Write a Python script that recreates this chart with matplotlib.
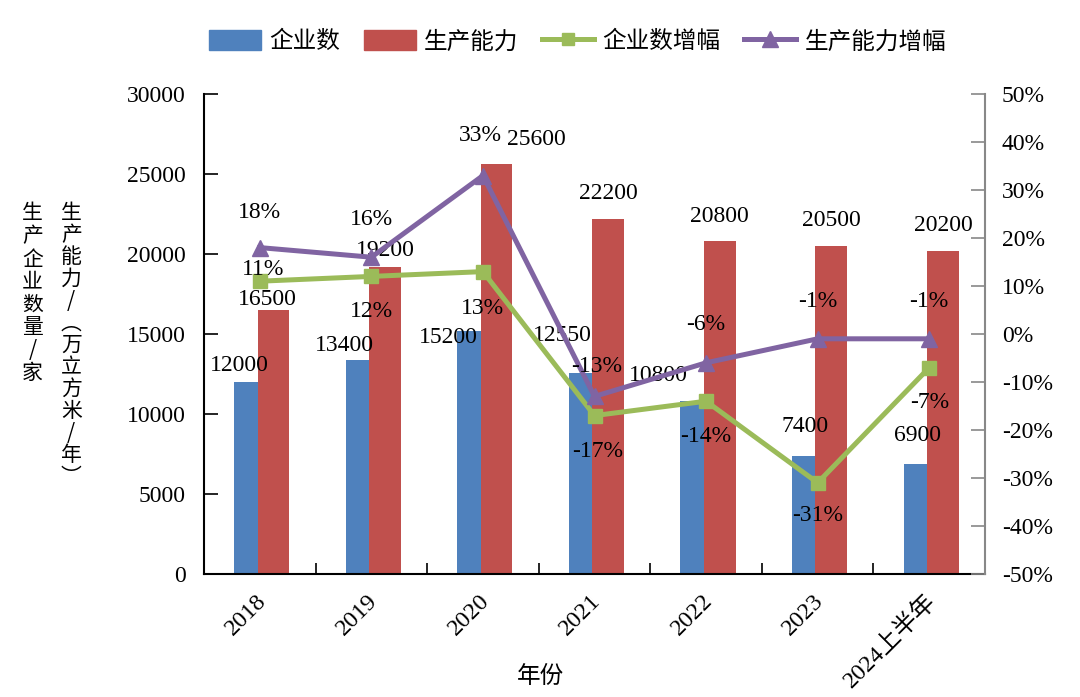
import matplotlib
import matplotlib.pyplot as plt
from matplotlib.patches import Patch
from matplotlib.lines import Line2D

matplotlib.use("Agg")

plt.rcParams["font.family"] = ["Liberation Serif", "Noto Sans CJK SC"]

years = ["2018", "2019", "2020", "2021", "2022", "2023", "2024上半年"]
firms = [12000, 13400, 15200, 12550, 10800, 7400, 6900]
capacity = [16500, 19200, 25600, 22200, 20800, 20500, 20200]
firms_growth = [11, 12, 13, -17, -14, -31, -7]
capacity_growth = [18, 16, 33, -13, -6, -1, -1]

# label offsets in pixels (dx, dy) from each mark, as placed in the original
firms_off = [(-6, 16), (-13, 14), (-21, -7), (-18, 38), (-34, 26), (1, 29), (2, 28)]
cap_off = [(-6, 10), (0, 16), (40, 25), (0, 25), (0, 25), (0, 25), (0, 25)]
fg_off = [(3, 12), (0, -35), (0, -37), (3, -36), (0, -35), (0, -33), (0, -35)]
cg_off = [(0, 35), (0, 38), (-3, 40), (2, 30), (0, 38), (0, 37), (0, 37)]

BLUE = "#4F81BD"
RED = "#C0504D"
GREEN = "#9BBB59"
PURPLE = "#8064A2"
FS = 17
PX = 0.72  # points per pixel at dpi 100

fig = plt.figure(figsize=(10.8, 6.97), dpi=100)
ax = fig.add_axes([204 / 1080, (697 - 574) / 697, 781 / 1080, 480 / 697])
ax2 = ax.twinx()

x = list(range(len(years)))
ax.bar([i - 0.23 for i in x], firms, 0.21, align="edge", color=BLUE, zorder=2)
ax.bar([i - 0.02 for i in x], capacity, 0.285, align="edge", color=RED, zorder=2)

ax.set_xlim(-0.5, len(years) - 0.5)
ax.set_ylim(0, 30000)
ax.set_yticks(range(0, 30001, 5000))
ax.set_xticks([i + 0.5 for i in x[:-1]] + [-0.5])
ax.set_xticklabels([])
ax.tick_params(axis="x", direction="in", length=8, width=1.2)
ax.tick_params(axis="y", direction="in", length=10, width=1.2, labelsize=FS, pad=13)
for i, lab in enumerate(years):
    ax.text(i - 0.04, -1000, lab, rotation=45, ha="right", va="top",
            fontsize=FS + 0.5, rotation_mode="anchor")

ax.spines["top"].set_visible(False)
ax.spines["right"].set_visible(False)
for s in ["left", "bottom"]:
    ax.spines[s].set_linewidth(1.5)

ax2.plot(x, firms_growth, color=GREEN, lw=3.6, marker="s", markersize=9.5, zorder=3)
ax2.plot(x, capacity_growth, color=PURPLE, lw=3.6, marker="^", markersize=12, zorder=3)
ax2.set_ylim(-50, 50)
ax2.set_yticks(range(-50, 51, 10))
ax2.set_yticklabels([f"{v}%" for v in range(-50, 51, 10)])
ax2.tick_params(axis="y", direction="in", length=10, width=1.2, labelsize=FS,
                pad=12, color="#888888")
ax2.spines["top"].set_visible(False)
ax2.spines["left"].set_visible(False)
ax2.spines["bottom"].set_visible(False)
ax2.spines["right"].set_linewidth(1.5)
ax2.spines["right"].set_color("#888888")
ax2.set_zorder(ax.get_zorder() + 1)
ax2.patch.set_visible(False)

for i in x:
    ax.annotate(str(firms[i]), (i - 0.125, firms[i]),
                xytext=(firms_off[i][0] * PX, firms_off[i][1] * PX),
                textcoords="offset points", ha="center", va="center", fontsize=FS)
    ax.annotate(str(capacity[i]), (i + 0.1225, capacity[i]),
                xytext=(cap_off[i][0] * PX, cap_off[i][1] * PX),
                textcoords="offset points", ha="center", va="center", fontsize=FS)
    ax2.annotate(f"{firms_growth[i]}%", (i, firms_growth[i]),
                 xytext=(fg_off[i][0] * PX, fg_off[i][1] * PX),
                 textcoords="offset points", ha="center", va="center", fontsize=FS)
    ax2.annotate(f"{capacity_growth[i]}%", (i, capacity_growth[i]),
                 xytext=(cg_off[i][0] * PX, cg_off[i][1] * PX),
                 textcoords="offset points", ha="center", va="center", fontsize=FS)

# stacked vertical axis titles
fig.text(0.030, 0.71, "\n".join("生产企业数量/家"), ha="center", va="top",
         fontsize=15, linespacing=1.05, family="Noto Sans CJK SC")
fig.text(0.066, 0.71, "\n".join(["生", "产", "能", "力", "/", "︵", "万", "立",
                                  "方", "米", "/", "年", "︶"]),
         ha="center", va="top", fontsize=15, linespacing=1.0,
         family="Noto Sans CJK SC")
fig.text(0.50, 0.03, "年份", ha="center", va="center", fontsize=FS,
         family="Noto Sans CJK SC")

handles = [
    Patch(color=BLUE, label="企业数"),
    Patch(color=RED, label="生产能力"),
    Line2D([], [], color=GREEN, lw=3.6, marker="s", markersize=9, label="企业数增幅"),
    Line2D([], [], color=PURPLE, lw=3.6, marker="^", markersize=11, label="生产能力增幅"),
]
fig.legend(handles=handles, loc="center", bbox_to_anchor=(0.535, 0.94), ncol=4,
           frameon=False, fontsize=FS, handlelength=2.2, handleheight=0.9,
           columnspacing=1.0, handletextpad=0.35)

fig.savefig("out.png", dpi=100)
plt.close(fig)
